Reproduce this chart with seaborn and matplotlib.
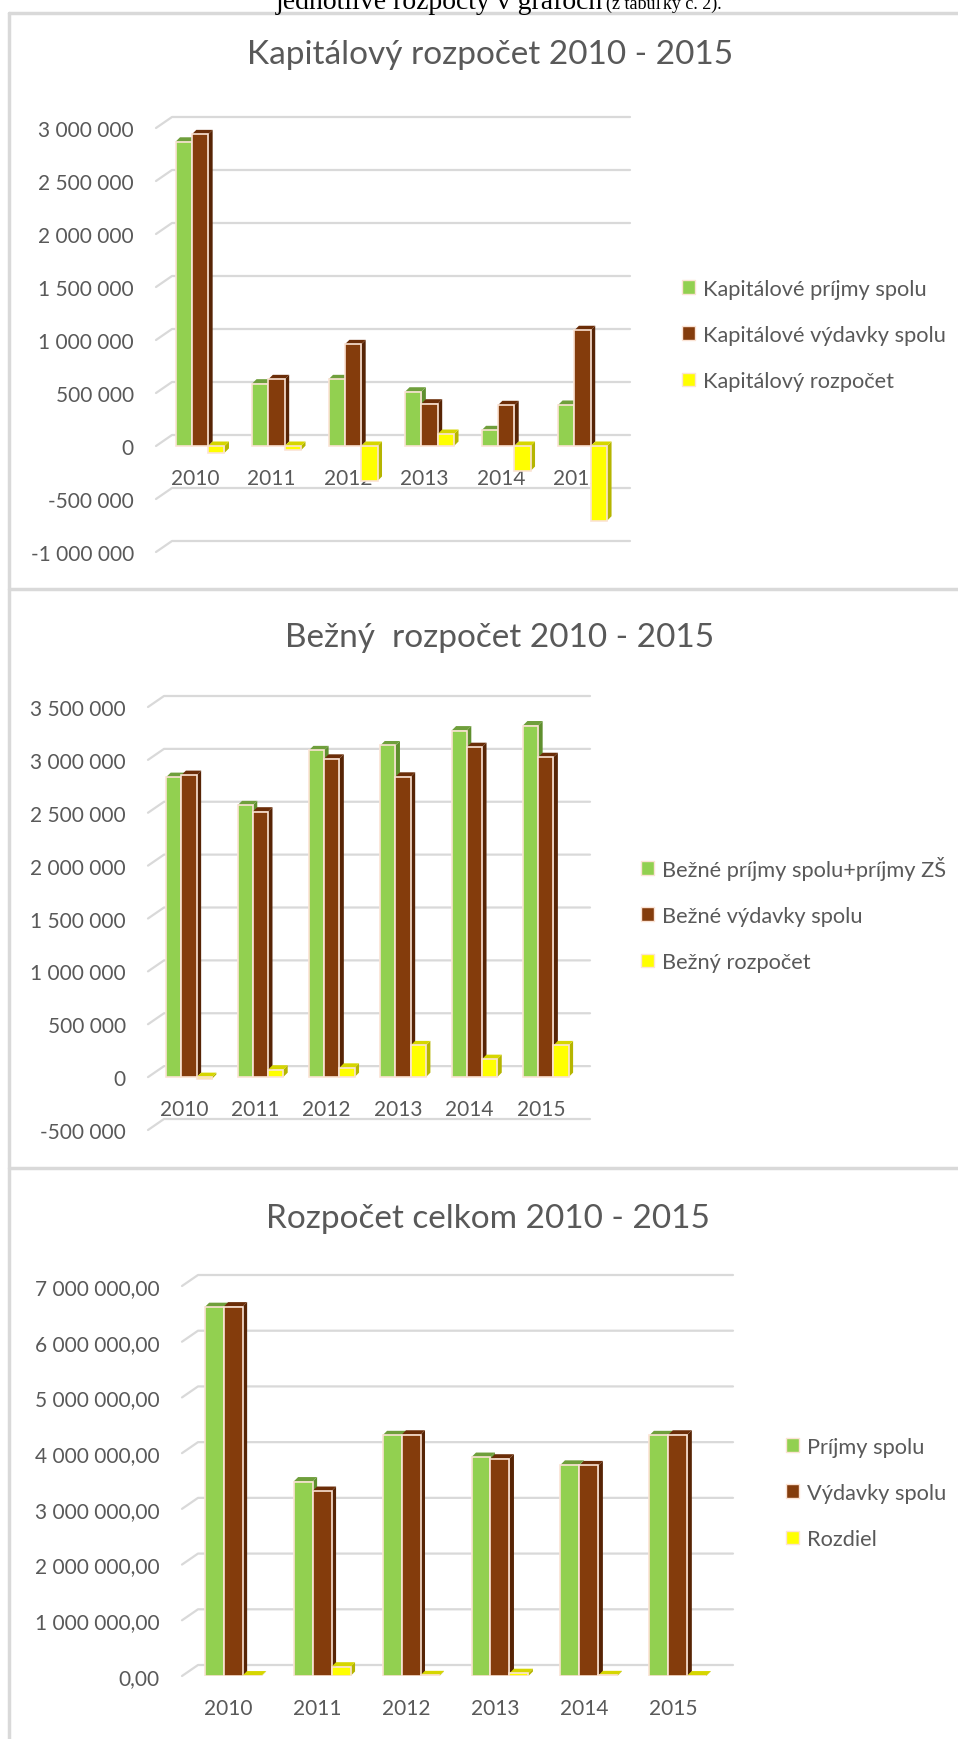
import numpy as np
import pandas as pd
import matplotlib
matplotlib.use("Agg")
import matplotlib.pyplot as plt
import seaborn as sns
from matplotlib.patches import Polygon, Patch
from matplotlib.lines import Line2D
from matplotlib.ticker import FuncFormatter
from matplotlib.transforms import ScaledTranslation

# ---------------- data ----------------
years = ["2010", "2011", "2012", "2013", "2014", "2015"]

kap_labels = ["Kapitálové príjmy spolu", "Kapitálové výdavky spolu", "Kapitálový rozpočet"]
kap_prijmy = [2870000, 588000, 629000, 512000, 148000, 387000]
kap_vydavky = [2940000, 629000, 959000, 399000, 384000, 1092000]
kap_rozpocet = [-65000, -40000, -330000, 113000, -236000, -705000]

bez_labels = ["Bežné príjmy spolu+príjmy ZŠ", "Bežné výdavky spolu", "Bežný rozpočet"]
bez_prijmy = [2837000, 2570000, 3090000, 3136000, 3277000, 3325000]
bez_vydavky = [2856000, 2510000, 3010000, 2840000, 3120000, 3025000]
bez_rozpocet = [-18000, 70000, 88000, 300000, 170000, 300000]

cel_labels = ["Príjmy spolu", "Výdavky spolu", "Rozdiel"]
cel_prijmy = [6620000, 3490000, 4320000, 3930000, 3790000, 4320000]
cel_vydavky = [6630000, 3320000, 4330000, 3900000, 3780000, 4330000]
cel_rozdiel = [8000, 167000, 12000, 50000, 12000, 8000]

GREEN, BROWN, YELLOW = "#92d050", "#843c0c", "#ffff00"
SIDE = {GREEN: "#5f8f2e", BROWN: "#572405", YELLOW: "#b5b500"}
TOP = {GREEN: "#6f9f3c", BROWN: "#6b2d08", YELLOW: "#d6d600"}
EDGE = "#fbe3d4"
TEXT = "#595959"
GRID = "#d9d9d9"

W, H = 958, 1740
sns.set_style("white")
plt.rcParams["font.family"] = ["Lato", "DejaVu Sans"]

fig = plt.figure(figsize=(W / 100, H / 100), dpi=100)
fig.patch.set_facecolor("white")


def fmt_space(dec):
    def f(v, pos):
        return f"{v:,.{dec}f}".replace(",", " ").replace(".", ",")
    return FuncFormatter(f)


def panel(box, title, title_xy, labels, series, ylim, step, dec, legend_y):
    left, top, right, bottom = box
    ax = fig.add_axes([left / W, 1 - bottom / H, (right - left) / W, (bottom - top) / H])
    df = pd.DataFrame({
        "rok": years * 3,
        "hodnota": np.concatenate(series),
        "typ": np.repeat(labels, len(years)),
    })
    sns.barplot(data=df, x="rok", y="hodnota", hue="typ", palette=[GREEN, BROWN, YELLOW],
                width=0.64, saturation=1, edgecolor=EDGE, linewidth=1.2,
                legend=False, ax=ax)
    xlim = (-0.575, 5.62)
    ax.set_xlim(*xlim)
    ax.set_ylim(*ylim)

    # fake 3D side and top faces
    ppx = (right - left) / (xlim[1] - xlim[0])
    ppy = (bottom - top) / (ylim[1] - ylim[0])
    dx, dy = 4.5 / ppx, 4.5 / ppy
    bars = sorted(list(ax.patches), key=lambda p: p.get_x())
    for k, p in enumerate(bars):
        x0, w, h = p.get_x(), p.get_width(), p.get_height()
        c = matplotlib.colors.to_hex(p.get_facecolor())
        ylo, yhi = min(0, h), max(0, h)
        z = 2 + k * 0.01
        ax.add_patch(Polygon([(x0 + w, ylo), (x0 + w + dx, ylo + dy), (x0 + w + dx, yhi + dy), (x0 + w, yhi)],
                             fc=SIDE[c], ec="none", zorder=z))
        ax.add_patch(Polygon([(x0, yhi), (x0 + dx, yhi + dy), (x0 + w + dx, yhi + dy), (x0 + w, yhi)],
                             fc=TOP[c], ec="none", zorder=z))
        p.set_zorder(z + 0.005)

    # gridlines with the slanted front stub
    ticks = np.arange(ylim[0], ylim[1] + 1, step)
    gdx, gdy = 16 / (right - left), 11 / (bottom - top)
    for t in ticks:
        ya = (t - ylim[0]) / (ylim[1] - ylim[0])
        ax.plot([0, gdx, 1], [ya, ya + gdy, ya + gdy], transform=ax.transAxes,
                color=GRID, lw=1.6, clip_on=False, zorder=0.5)

    ax.set_yticks(ticks)
    ax.yaxis.set_major_formatter(fmt_space(dec))
    ax.tick_params(axis="y", length=0, pad=16, labelsize=15, labelcolor=TEXT)
    ax.tick_params(axis="x", length=0, pad=16, labelsize=15, labelcolor=TEXT)
    ax.spines["bottom"].set_position(("data", 0))
    for s in ax.spines.values():
        s.set_visible(False)
    ax.set_xlabel("")
    ax.set_ylabel("")
    ax.grid(False)
    for lab in ax.get_xticklabels():
        lab.set_transform(lab.get_transform() + ScaledTranslation(-0.05, 0, fig.dpi_scale_trans))

    handles = [Patch(facecolor=c, edgecolor=EDGE, linewidth=1) for c in (GREEN, BROWN, YELLOW)]
    ax.legend(handles, labels, loc="center right", bbox_to_anchor=(946 / W, 1 - legend_y / H),
              bbox_transform=fig.transFigure, frameon=False, fontsize=15.7, labelcolor=TEXT,
              handlelength=0.6, handleheight=0.6, handletextpad=0.35, labelspacing=1.2,
              borderpad=0, borderaxespad=0)

    fig.text(title_xy[0] / W, 1 - title_xy[1] / H, title, ha="center", va="center",
             fontsize=24, color=TEXT)
    return ax


panel((156, 129, 630, 553), "Kapitálový rozpočet 2010 - 2015", (490, 55), kap_labels,
      [kap_prijmy, kap_vydavky, kap_rozpocet], (-1000000, 3000000), 500000, 0, 336)
panel((148, 708, 590, 1131), "Bežný  rozpočet 2010 - 2015", (500, 638), bez_labels,
      [bez_prijmy, bez_vydavky, bez_rozpocet], (-500000, 3500000), 500000, 0, 915)
panel((182, 1287, 733, 1677), "Rozpočet celkom 2010 - 2015", (488, 1219), cel_labels,
      [cel_prijmy, cel_vydavky, cel_rozdiel], (0, 7000000), 1000000, 2, 1494)

# panel frames
for y in (14, 590, 1169):
    fig.add_artist(Line2D([9 / W, 1], [1 - y / H] * 2, color=GRID, lw=2.5))
fig.add_artist(Line2D([9 / W] * 2, [1 - 14 / H, 0], color=GRID, lw=2.5))

# cut-off line of document text above the charts
fig.text(603 / W, 1 - 9 / H, "jednotlivé rozpočty v grafoch", family=["Liberation Serif", "DejaVu Serif"],
         fontsize=20, ha="right", va="baseline", color="black")
fig.text(606 / W, 1 - 9 / H, "(z tabuľky č. 2).", family=["Liberation Serif", "DejaVu Serif"],
         fontsize=13, ha="left", va="baseline", color="black")

fig.savefig("out.png", dpi=100)
